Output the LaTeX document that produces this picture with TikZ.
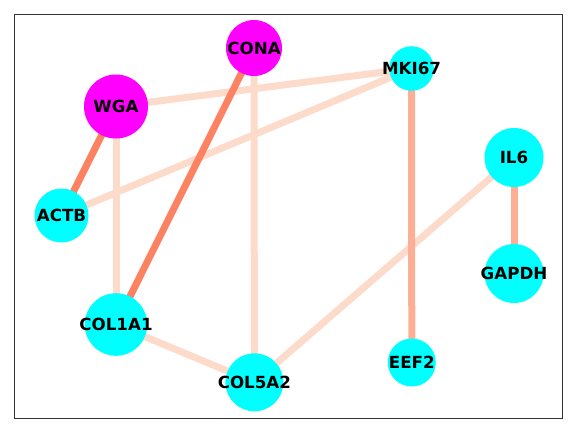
\documentclass[tikz,border=0pt]{standalone}
\usepackage{fontspec}
\setmainfont{DejaVu Sans}
\usetikzlibrary{backgrounds}
\definecolor{elight}{HTML}{FDDBCB}
\definecolor{emed}{HTML}{FCAF94}
\definecolor{edark}{HTML}{FC8262}
\definecolor{framec}{HTML}{333333}
\definecolor{nmag}{HTML}{FF00FF}
\definecolor{ncyan}{HTML}{00FFFF}
\newcommand{\genelabel}[1]{\makebox[0pt]{#1}}
\tikzset{
  gene/.style={circle, inner sep=0pt, fill=#1, font=\fontsize{16.7bp}{20bp}\selectfont\bfseries, text=black},
  lightedge/.style={draw=elight, line width=7bp},
  mededge/.style={draw=emed, line width=7bp},
  darkedge/.style={draw=edark, line width=7bp},
}
\begin{document}
\begin{tikzpicture}[x=1bp, y=-1bp]
\useasboundingbox (0,0) rectangle (576,432);
\draw[framec, line width=1bp] (14,14) rectangle (562,418);
\node[gene=nmag, minimum size=56bp] (CONA) at (254,48) {\genelabel{CONA}};
\node[gene=nmag, minimum size=64bp] (WGA) at (116,106.5) {\genelabel{WGA}};
\node[gene=ncyan, minimum size=44.6bp] (MKI67) at (411.5,68.5) {\genelabel{MKI67}};
\node[gene=ncyan, minimum size=59bp] (IL6) at (514,157.5) {\genelabel{IL6}};
\node[gene=ncyan, minimum size=54bp] (ACTB) at (61.5,215.5) {\genelabel{ACTB}};
\node[gene=ncyan, minimum size=59bp] (GAPDH) at (514,273.5) {\genelabel{GAPDH}};
\node[gene=ncyan, minimum size=62.6bp] (COL1A1) at (116,324.5) {\genelabel{COL1A1}};
\node[gene=ncyan, minimum size=58bp] (COL5A2) at (254.4,382.3) {\genelabel{COL5A2}};
\node[gene=ncyan, minimum size=48bp] (EEF2) at (411.8,362.5) {\genelabel{EEF2}};
\begin{scope}[on background layer]
\draw[lightedge] (WGA.center) -- (MKI67.center);
\draw[lightedge] (ACTB.center) -- (MKI67.center);
\draw[lightedge] (WGA.center) -- (COL1A1.center);
\draw[lightedge] (CONA.center) -- (COL5A2.center);
\draw[lightedge] (COL1A1.center) -- (COL5A2.center);
\draw[lightedge] (COL5A2.center) -- (IL6.center);
\draw[mededge] (MKI67.center) -- (EEF2.center);
\draw[mededge] (IL6.center) -- (GAPDH.center);
\draw[darkedge] (WGA.center) -- (ACTB.center);
\draw[darkedge] (CONA.center) -- (COL1A1.center);
\end{scope}
\end{tikzpicture}
\end{document}
